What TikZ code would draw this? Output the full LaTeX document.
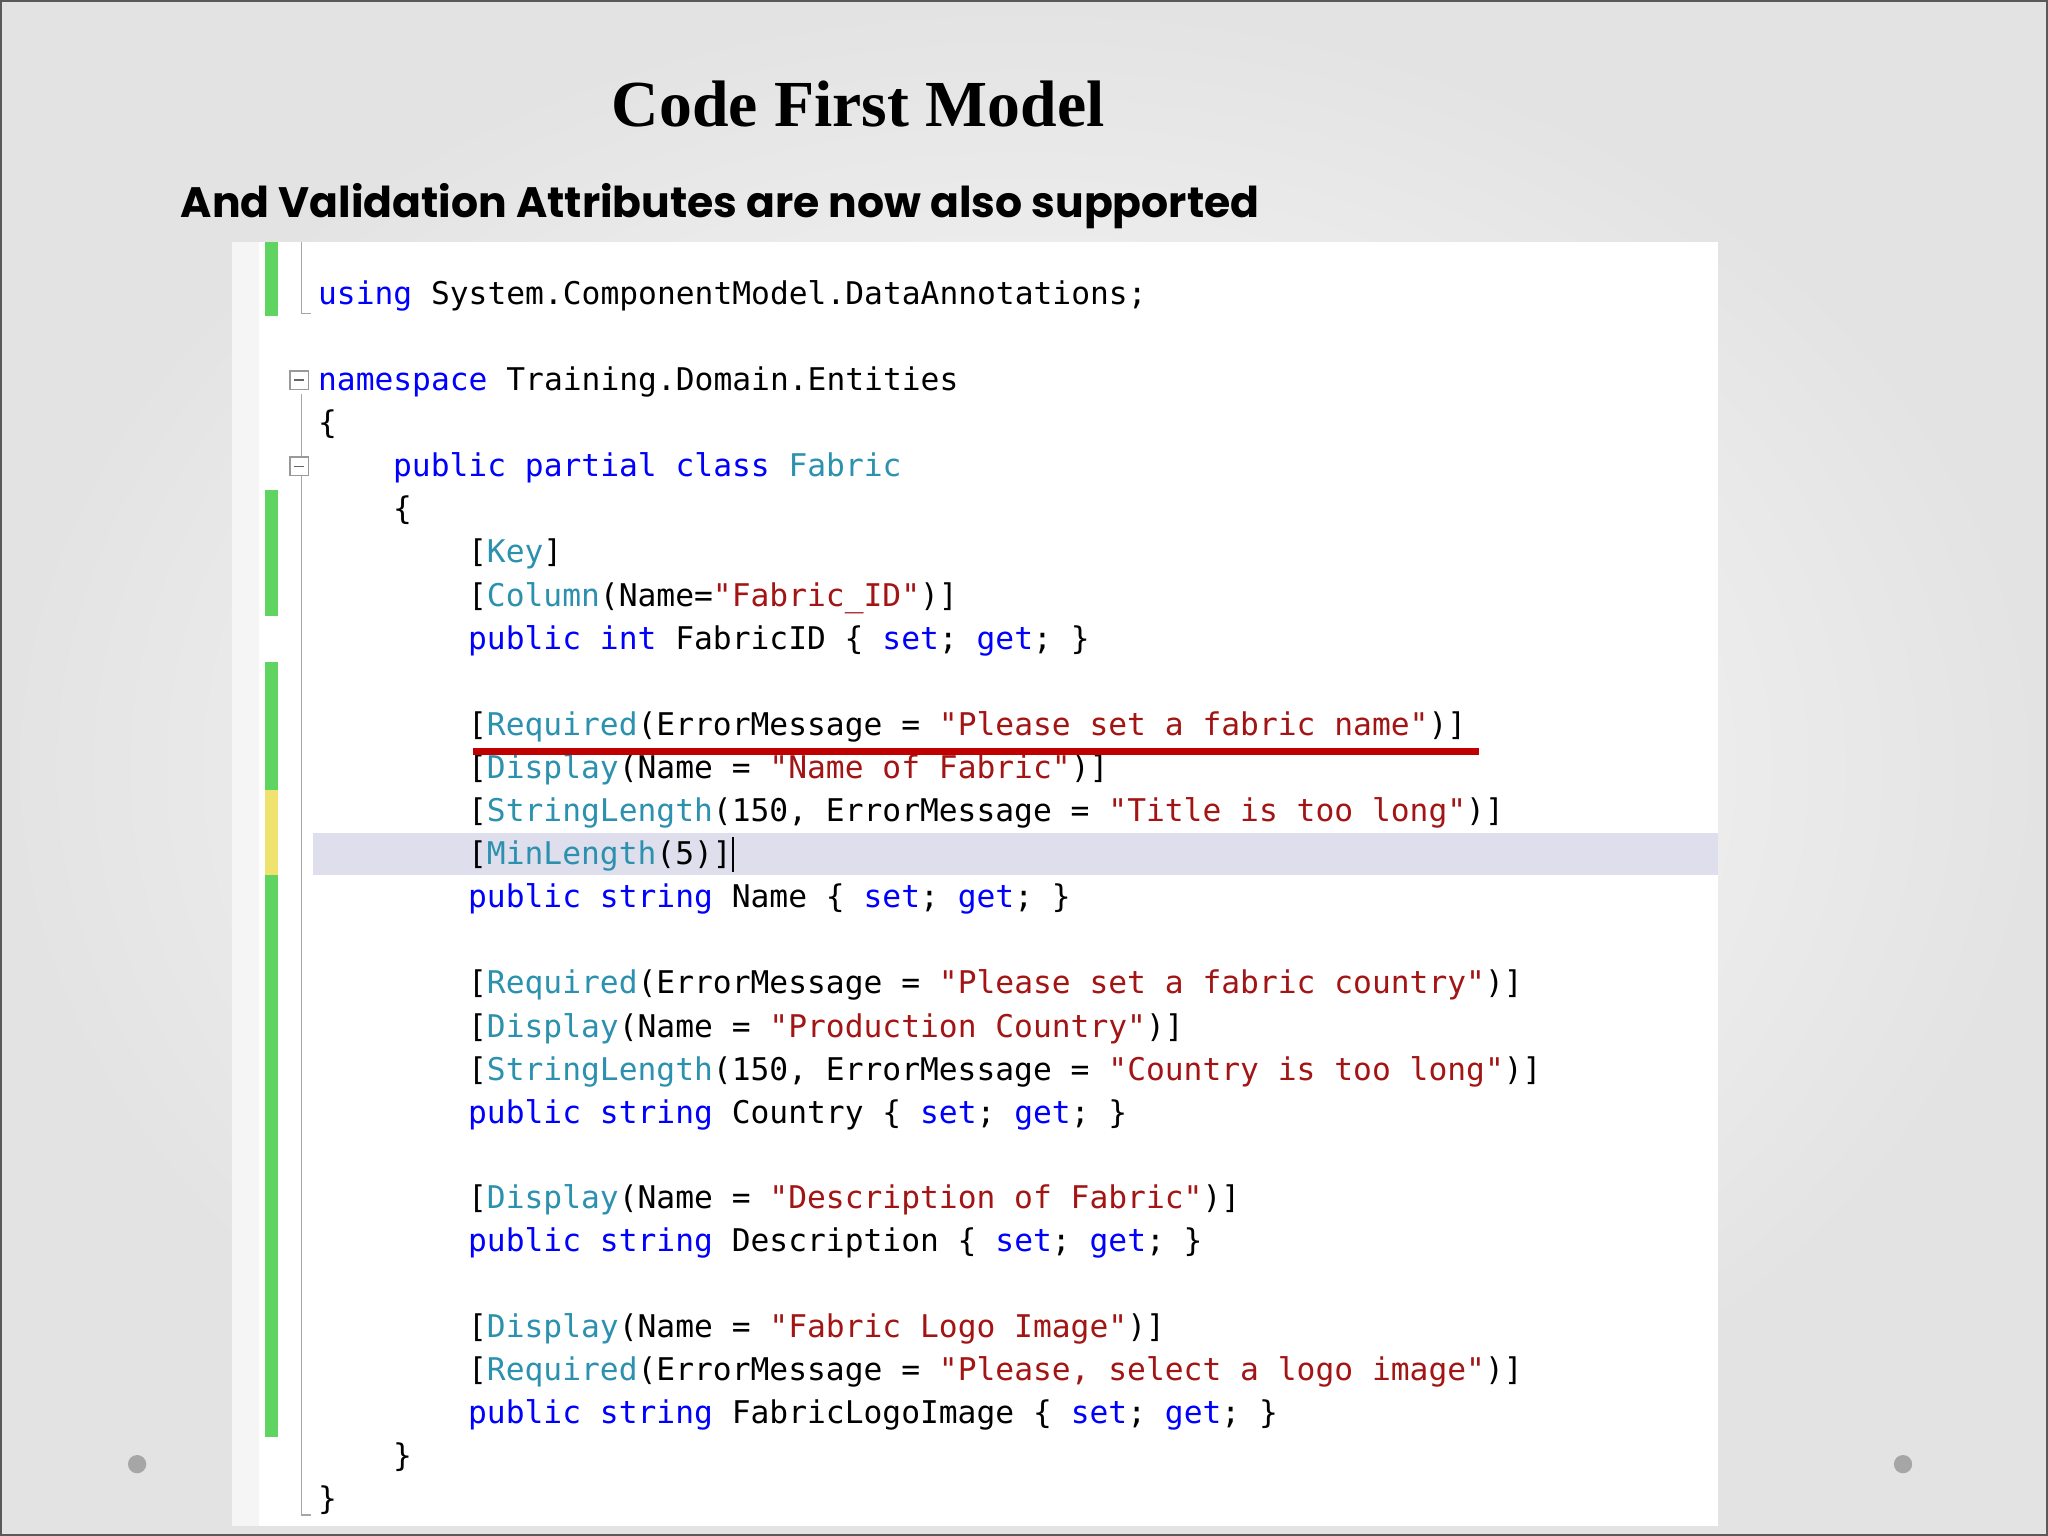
\documentclass[tikz,border=0pt]{standalone}
\usepackage{fontspec}
\setmainfont{Liberation Serif}
\newfontfamily\code{DejaVu Sans Mono}
\newfontfamily\sub{Poppins}
\definecolor{kw}{RGB}{0,0,255}
\definecolor{ty}{RGB}{43,145,175}
\definecolor{st}{RGB}{163,21,21}
\definecolor{gb}{RGB}{96,212,96}
\definecolor{yb}{RGB}{240,226,110}
\definecolor{hl}{RGB}{222,222,236}
\newcommand{\kw}[1]{\textcolor{kw}{#1}}
\newcommand{\ty}[1]{\textcolor{ty}{#1}}
\newcommand{\st}[1]{\textcolor{st}{#1}}
\begin{document}
\begin{tikzpicture}[x=0.013061cm,y=-0.013061cm,
  ln/.style={anchor=base west,inner sep=0pt,font=\code\fontsize{8.9}{10}\selectfont}]
\useasboundingbox (0,0) rectangle (1568,1176);
\shade[inner color=white,outer color=gray!22] (0,0) rectangle (1568,1176);
\draw[gray!70!black,line width=0.6pt] (0.5,0.5) rectangle (1567.5,1175.5);
\fill[gray!8] (178,185) rectangle (198,1168);
\fill[white] (198,185) rectangle (1315,1168);
\fill[gb] (203,185) rectangle (213,242);
\fill[gb] (203,375) rectangle (213,472);
\fill[gb] (203,507) rectangle (213,605);
\fill[yb] (203,605) rectangle (213,670);
\fill[gb] (203,670) rectangle (213,1100);
\fill[hl] (240,638) rectangle (1315,670);
\draw[gray!70,line width=0.4pt] (231,185) -- (231,240) -- (238,240);
\draw[gray!70,line width=0.4pt] (231,302) -- (231,1160) -- (238,1160);
\foreach \yy in {292,358}{
  \draw[gray!80,fill=white,line width=0.4pt] (222,\yy-8) rectangle (236,\yy+6);
  \draw[gray!80!black,line width=0.4pt] (225,\yy-1) -- (233,\yy-1);}
\node (title) at (657,80) {\fontsize{18.7}{22}\selectfont\bfseries Code First Model};
\node[anchor=west,inner sep=0pt] (subt) at (138,158) {\sub\fontsize{12.1}{15}\selectfont\bfseries And Validation Attributes are now also supported};
\def\cx{14.36}
\newcommand{\cl}[3]{\node[ln] at (243+#1*\cx,#2+7) {#3};}
\cl{0}{226}{\kw{using} System.ComponentModel.DataAnnotations;}
\cl{0}{292}{\kw{namespace} Training.Domain.Entities}
\cl{0}{325}{\{}
\cl{4}{358}{\kw{public} \kw{partial} \kw{class} \ty{Fabric}}
\cl{4}{391}{\{}
\cl{8}{424}{[\ty{Key}]}
\cl{8}{457}{[\ty{Column}(Name=\st{"Fabric\_ID"})]}
\cl{8}{490}{\kw{public} \kw{int} FabricID \{ \kw{set}; \kw{get}; \}}
\cl{8}{556}{[\ty{Required}(ErrorMessage = \st{"Please set a fabric name"})]}
\cl{8}{589}{[\ty{Display}(Name = \st{"Name of Fabric"})]}
\cl{8}{622}{[\ty{StringLength}(150, ErrorMessage = \st{"Title is too long"})]}
\cl{8}{655}{[\ty{MinLength}(5)]}
\cl{8}{688}{\kw{public} \kw{string} Name \{ \kw{set}; \kw{get}; \}}
\cl{8}{754}{[\ty{Required}(ErrorMessage = \st{"Please set a fabric country"})]}
\cl{8}{787}{[\ty{Display}(Name = \st{"Production Country"})]}
\cl{8}{820}{[\ty{StringLength}(150, ErrorMessage = \st{"Country is too long"})]}
\cl{8}{853}{\kw{public} \kw{string} Country \{ \kw{set}; \kw{get}; \}}
\cl{8}{918}{[\ty{Display}(Name = \st{"Description of Fabric"})]}
\cl{8}{951}{\kw{public} \kw{string} Description \{ \kw{set}; \kw{get}; \}}
\cl{8}{1017}{[\ty{Display}(Name = \st{"Fabric Logo Image"})]}
\cl{8}{1050}{[\ty{Required}(ErrorMessage = \st{"Please, select a logo image"})]}
\cl{8}{1083}{\kw{public} \kw{string} FabricLogoImage \{ \kw{set}; \kw{get}; \}}
\cl{4}{1116}{\}}
\cl{0}{1149}{\}}
\draw[black,line width=0.6pt] (561,641) -- (561,668);
\draw[red!75!black,line width=2pt] (362,575) -- (1132,575);
\fill[gray!70] (105,1121) circle (7);
\fill[gray!70] (1457,1121) circle (7);
\end{tikzpicture}
\end{document}
